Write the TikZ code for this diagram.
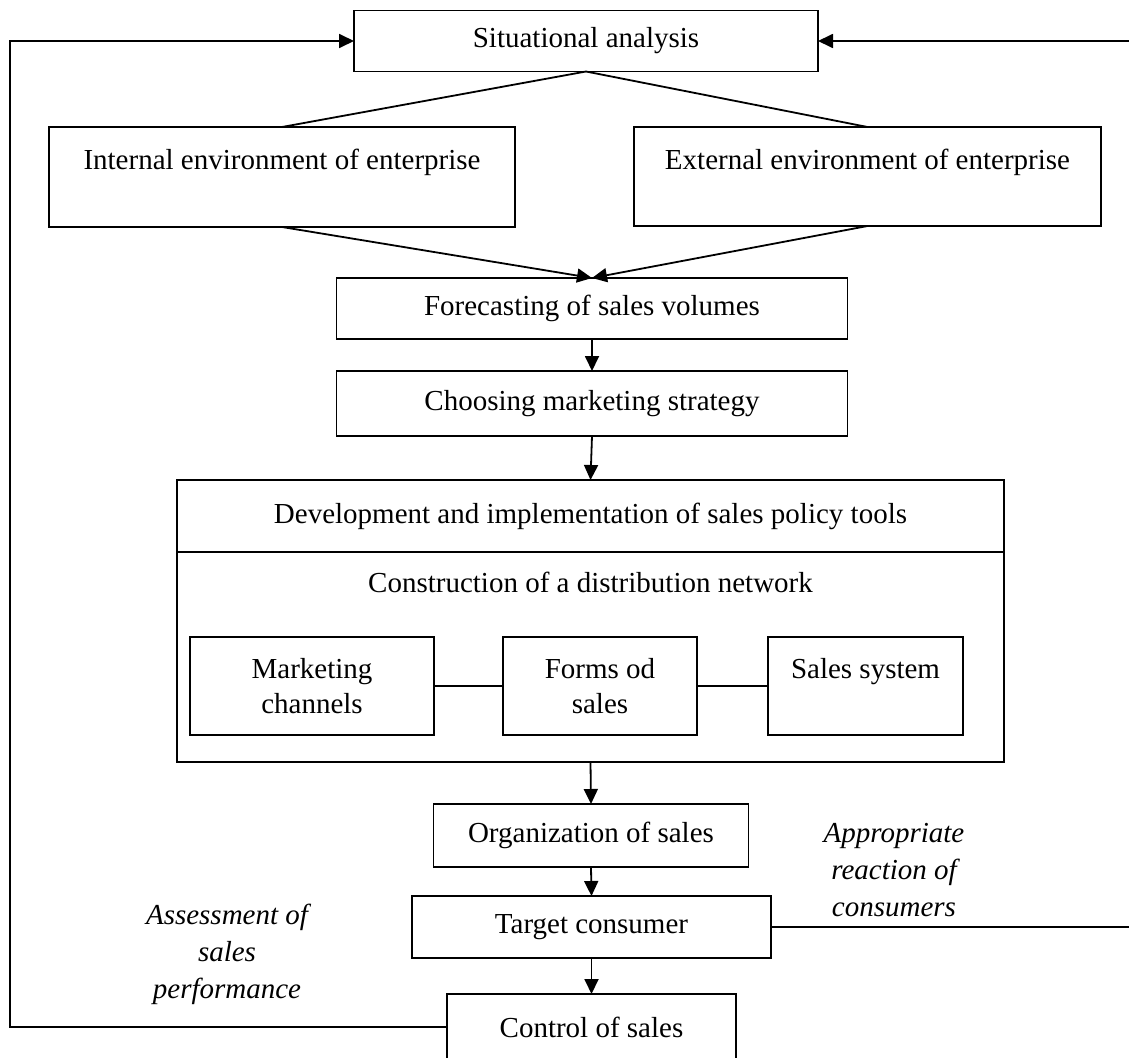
\documentclass[tikz,border=0pt]{standalone}
\usepackage{fontspec}
\setmainfont{Liberation Serif}
\usetikzlibrary{arrows.meta}
\begin{document}
\begin{tikzpicture}[x=1pt,y=-1pt,
  every node/.style={font=\fontsize{29}{35}\selectfont},
  box/.style={draw,line width=1.8pt,rectangle,inner sep=0pt,outer sep=0pt,align=center},
  lbl/.style={inner sep=0pt,align=center,font=\fontsize{29}{37}\selectfont\itshape},
  ln/.style={line width=1.8pt},
  arr/.style={line width=1.8pt,-{Triangle[length=15pt,width=14pt]}}]
\useasboundingbox (0,0) rectangle (1129,1057);
\clip (0,0) rectangle (1129,1057);
\node[box,minimum width=464pt,minimum height=61pt] (sit) at (586,41) {Situational analysis};
\node[box,minimum width=466pt,minimum height=100pt] (int) at (282,177) {Internal environment of enterprise\\~};
\node[box,minimum width=467pt,minimum height=99pt] (ext) at (867.5,176.5) {External environment of enterprise\\~};
\node[box,minimum width=511pt,minimum height=61pt] (fc) at (592,308.5) {Forecasting of sales volumes};
\node[box,minimum width=511pt,minimum height=65pt] (ch) at (592,403.5) {Choosing marketing strategy};
\node[box,minimum width=827pt,minimum height=72pt] (dev) at (590.5,516) {Development and implementation of sales policy tools};
\node[box,minimum width=827pt,minimum height=210pt] (net) at (590.5,657) {};
\node[inner sep=0pt] (nett) at (590.5,582) {Construction of a distribution network};
\node[box,minimum width=244pt,minimum height=98pt] (mc) at (312,686) {Marketing\\channels};
\node[box,minimum width=194pt,minimum height=98pt] (fs) at (600,686) {Forms od\\sales};
\node[box,minimum width=195pt,minimum height=98pt] (ss) at (865.5,686) {Sales system\\~};
\node[box,minimum width=315pt,minimum height=63pt] (org) at (591,835.5) {Organization of sales};
\node[box,minimum width=359pt,minimum height=62pt] (tc) at (591.5,927) {Target consumer};
\node[box,minimum width=289pt,minimum height=66pt] (cs) at (591.5,1027) {Control of sales};
\node[lbl] (app) at (894,870) {Appropriate\\reaction of\\consumers};
\node[lbl] (ass) at (227,954) {Assessment of\\sales\\performance};
\coordinate (lc) at (10,0);
\coordinate (rc) at (1145,0);
\draw[ln] (sit.south) -- (int.north);
\draw[ln] (sit.south) -- (ext.north);
\draw[arr] (int.south) -- (fc.north);
\draw[arr] (ext.south) -- (fc.north);
\draw[arr] (fc.south) -- (ch.north);
\draw[arr] (ch.south) -- (dev.north);
\draw[ln] (mc.east) -- (fs.west);
\draw[ln] (fs.east) -- (ss.west);
\draw[arr] (net.south) -- (org.north);
\draw[arr] (org.south) -- (tc.north);
\draw[arr] (tc.south) -- (cs.north);
\draw[arr] (cs.west) -- (cs.west -| lc) |- (sit.west);
\draw[arr] (tc.east) -- (tc.east -| rc) |- (sit.east);
\end{tikzpicture}
\end{document}
